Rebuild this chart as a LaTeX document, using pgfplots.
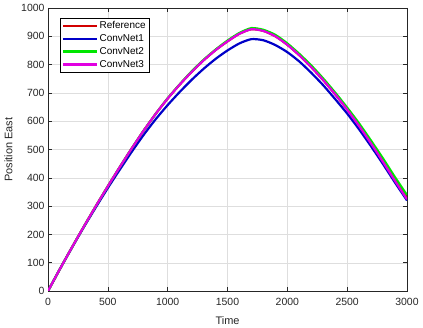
\documentclass[border=0pt]{standalone}
\usepackage{pgfplots}
\pgfplotsset{compat=1.18}
\usepackage{pgfplotstable}
\usepackage{fontspec}
\setmainfont{Liberation Sans}

\definecolor{mred}{RGB}{210,0,0}
\definecolor{mblue}{RGB}{0,0,200}
\definecolor{mgreen}{RGB}{0,230,0}
\definecolor{mmag}{RGB}{225,0,225}
\definecolor{axgray}{RGB}{38,38,38}

% time, reference, convnet1, convnet2, convnet3
\pgfplotstableread{
t    ref  c1   c2   c3
0    0    0    0    0
100  78   78   78   78
200  154  153  154  154
300  228  226  228  228
400  300  296  300  300
500  370  364  370  370
600  438  429  438  438
700  504  492  504  504
800  567  552  567  567
900  626  607  626  626
1000 680  657  681  680
1100 729  703  730  729
1200 774  746  776  774
1300 815  785  817  815
1400 851  820  853  851
1500 882  850  885  882
1600 909  875  912  909
1700 925  890  929  925
1800 919  886  923  919
1900 900  869  905  900
2000 870  844  875  870
2100 833  811  838  833
2200 791  771  797  791
2300 745  727  751  745
2400 695  678  701  695
2500 642  627  648  641
2600 585  571  592  583
2700 524  511  531  521
2800 460  448  468  456
2900 394  383  402  389
3000 330  320  339  324
}\posdata

\begin{document}
\begin{tikzpicture}
\begin{axis}[
  at={(0,0)}, anchor=south west,
  scale only axis, width=359bp, height=283bp,
  xmin=0, xmax=3000, ymin=0, ymax=1000,
  xtick={0,500,...,3000}, ytick={0,100,...,1000},
  grid=major, major grid style={draw=black!13},
  axis line style={draw=axgray, line width=0.6pt},
  tick style={draw=axgray, line width=0.5pt},
  tick align=inside, major tick length=4bp,
  xtick pos=both, ytick pos=both,
  ticklabel style={font=\fontsize{10.5}{12}\selectfont, text=axgray},
  xticklabel style={yshift=-4bp},
  /pgf/number format/assume math mode=true,
  /pgf/number format/1000 sep={},
  xlabel={Time}, ylabel={Position East},
  label style={font=\fontsize{11}{13}\selectfont, text=axgray},
  xlabel style={yshift=-4bp},
  ylabel style={yshift=2bp},
  legend cell align=left,
  legend style={at={(0.033,0.965)}, anchor=north west, draw=black, fill=white,
    font=\fontsize{10}{12}\selectfont, inner sep=2bp, row sep=1.8bp,
    nodes={inner sep=1.3bp}},
  legend image code/.code={\draw[#1, line width=2.3pt, sharp plot] (0bp,0bp) -- (34bp,0bp);},
]
\addplot[mred, line width=2.2pt, smooth, tension=0.4]   table[x=t, y=ref] {\posdata};
\addlegendentry{Reference}
\addplot[mblue, line width=2.2pt, smooth, tension=0.4]  table[x=t, y=c1]  {\posdata};
\addlegendentry{ConvNet1}
\addplot[mgreen, line width=2.2pt, smooth, tension=0.4] table[x=t, y=c2]  {\posdata};
\addlegendentry{ConvNet2}
\addplot[mmag, line width=2.2pt, smooth, tension=0.4]   table[x=t, y=c3]  {\posdata};
\addlegendentry{ConvNet3}
\end{axis}
\pgfresetboundingbox
\path[use as bounding box] (-48bp,-37bp) rectangle (375bp,291bp);
\end{tikzpicture}
\end{document}
